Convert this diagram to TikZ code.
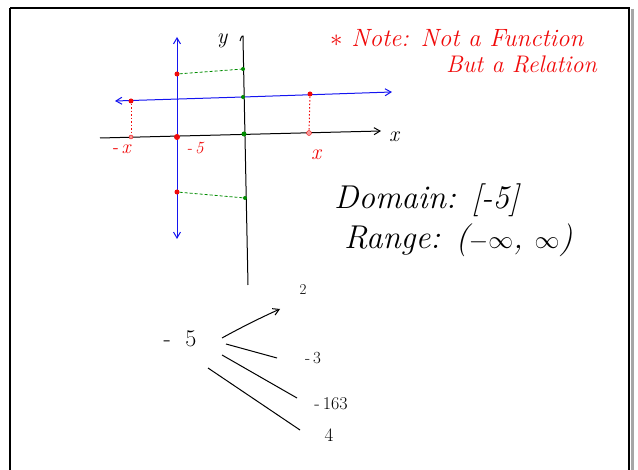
\documentclass[tikz,border=0pt]{standalone}
\usetikzlibrary{arrows.meta}
\definecolor{pblue}{RGB}{20,20,240}
\definecolor{pred}{RGB}{240,10,10}
\definecolor{pgreen}{RGB}{0,140,0}
\newcommand{\fsz}[1]{\fontsize{#1}{#1}\selectfont}
\tikzset{
  ink/.style={line width=1pt},
  tip/.style={-{Straight Barb[length=6pt,width=7pt]}},
  rdot/.style={circle,fill=pred,inner sep=0pt,minimum size=5pt},
  gdot/.style={circle,fill=pgreen,inner sep=0pt,minimum size=4pt},
  hand/.style={inner sep=0pt},
  reddots/.style={draw=pred,line width=1pt,dash pattern=on 1.5pt off 2pt},
}
\begin{document}
\begin{tikzpicture}[x=1pt,y=-1pt]
\useasboundingbox (0,0) rectangle (638,470);
% frame
\draw[gray!70,line width=3pt] (632,9) -- (632,470);
\draw[black,line width=2pt] (10,8) -- (630,8);
\draw[black,line width=2.5pt] (10,8) -- (10,470);
\draw[black,line width=1.5pt] (629,8) -- (629,470);

% axes
\coordinate (xl) at (100,138);
\coordinate (xr) at (381,131);
\coordinate (yt) at (243,38);
\coordinate (yb) at (248,285);
\draw[ink,tip] (xl) -- (xr);
\draw[ink] (yb) -- (yt) .. controls (244,34) and (241,36) .. (240,41);
\node[hand,font=\itshape\fsz{22}] (xlab) at (394,137) {x};
\node[hand,font=\itshape\fsz{22}] (ylab) at (222,41) {y};

% blue lines
\coordinate (bt) at (177,37);
\coordinate (bb) at (177,239);
\coordinate (hl) at (115,101);
\coordinate (hr) at (392,92);
\draw[pblue,ink,tip] (177,137) -- (bt);
\draw[pblue,ink,tip] (177,137) -- (bb);
\draw[pblue,ink,tip] (243,97) -- (hr);
\draw[pblue,ink,tip] (243,97) -- (hl);

% points
\node[rdot] (p1) at (131,101) {};
\node[rdot] (p2) at (310,94) {};
\node[rdot] (p3) at (177,74) {};
\node[rdot,minimum size=6pt] (p4) at (177,137) {};
\node[rdot] (p5) at (177,192) {};
\node[circle,draw=pred,fill=pred!40,inner sep=0pt,minimum size=4pt] (q1) at (131,137) {};
\node[circle,draw=pred,fill=pred!40,inner sep=0pt,minimum size=5pt] (q2) at (309,133) {};
\node[gdot] (g1) at (243,69) {};
\node[gdot] (g2) at (243,97) {};
\node[gdot,minimum size=5pt] (g3) at (244,134) {};
\node[gdot] (g4) at (245,198) {};

\draw[pgreen,densely dashed,line width=0.8pt] (p3) -- (g1);
\draw[pgreen,densely dashed,line width=0.8pt] (p5) -- (g4);
\draw[reddots] (p1) -- (q1);
\draw[reddots] (p2) -- (q2);

\node[hand,text=pred,font=\itshape\fsz{20}] (lmx) at (121,149) {-\,x};
\node[hand,text=pred,font=\itshape\fsz{17}] (lm5) at (195,148) {-\,5};
\node[hand,text=pred,font=\itshape\fsz{22}] (lx) at (316,155) {x};

% note
\node[hand,text=pred,font=\itshape\fsz{25},anchor=west] (note1) at (330,38) {$\ast$ Note: Not a Function};
\node[hand,text=pred,font=\itshape\fsz{24},anchor=west] (note2) at (446,64) {But a Relation};

% domain range
\node[hand,font=\itshape\fsz{33},anchor=west] (dom) at (334,200) {Domain: [-5]};
\node[hand,font=\itshape\fsz{33},anchor=west] (rng) at (344,240) {Range: ($-\infty$, $\infty$)};

% mapping
\node[hand,font=\fsz{24}] (m5) at (180,339) {-\ \ 5};
\node[hand,font=\fsz{15}] (v2) at (303,290) {2};
\node[hand,font=\fsz{17}] (v3) at (313,358) {-\,3};
\node[hand,font=\fsz{18}] (v163) at (331,404) {-\,163};
\node[hand,font=\fsz{19}] (v4) at (329,435) {4};
\coordinate (a1) at (222,338);
\coordinate (a2) at (280,309);
\draw[ink,tip] (a1) .. controls (240,328) and (260,318) .. (a2);
\coordinate (b1) at (226,344);
\coordinate (b2) at (277,358);
\draw[ink] (b1) -- (b2);
\coordinate (c1) at (222,355);
\coordinate (c2) at (297,398);
\draw[ink] (c1) -- (c2);
\coordinate (d1) at (208,368);
\coordinate (d2) at (300,430);
\draw[ink] (d1) -- (d2);
\end{tikzpicture}
\end{document}
